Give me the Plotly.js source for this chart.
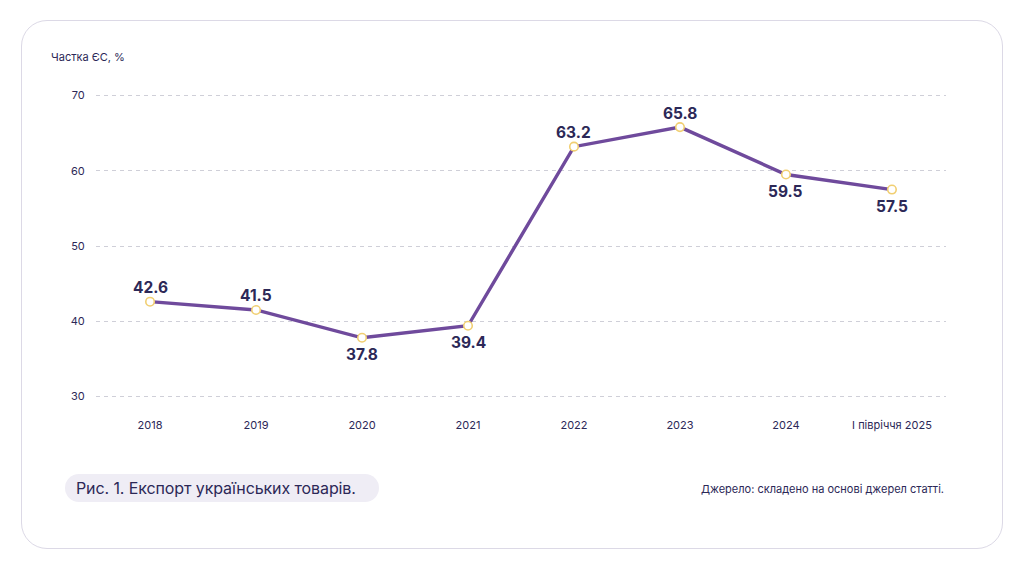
<!DOCTYPE html>
<html>
<head>
<meta charset="utf-8">
<script src="https://cdn.plot.ly/plotly-3.0.1.min.js"></script>
<style>
  html, body { margin: 0; padding: 0; background: #fff; }
  #wrap { position: relative; width: 1024px; height: 569px; }
  #card {
    position: absolute; left: 21px; top: 20px; width: 982px; height: 529px;
    border: 1px solid #dcd9e6; border-radius: 26px; box-sizing: border-box;
  }
  #chart { position: absolute; left: 0; top: 0; width: 1024px; height: 569px; }
  #caption {
    position: absolute; left: 65px; top: 474px; height: 28px; line-height: 28px;
    padding: 0 23px 0 11px; border-radius: 14px; background: #efedf5; color: #2c2857;
    font-family: Inter, "Noto Sans", sans-serif; font-size: 16px; letter-spacing: -0.1px;
  }
</style>
</head>
<body>
<div id="wrap">
  <div id="card"></div>
  <div id="chart"></div>
  <div id="caption">Рис. 1. Експорт українських товарів.</div>
</div>
<script>
// дані з малюнка
const periods = ["2018", "2019", "2020", "2021", "2022", "2023", "2024", "I півріччя 2025"];
const euShare = [42.6, 41.5, 37.8, 39.4, 63.2, 65.8, 59.5, 57.5];
const labelAbove = [true, true, false, false, true, true, false, false];

const ink = "#2c2857";

const trace = {
  x: periods.map((p, i) => i),
  y: euShare,
  mode: "lines+markers",
  line: { color: "#6f4a9c", width: 3.4 },
  marker: { size: 8.5, color: "#ffffff", line: { color: "#f1cf72", width: 1.6 } },
  cliponaxis: false,
  hoverinfo: "skip"
};

// підписи значень над / під точками
const valueLabels = euShare.map((v, i) => ({
  x: i, y: v, xref: "x", yref: "y",
  text: "<b>" + v.toFixed(1) + "</b>",
  showarrow: false,
  yanchor: "middle",
  yshift: labelAbove[i] ? 14 : -17,
  font: { family: "Inter, sans-serif", size: 15.5, color: ink }
}));

const layout = {
  width: 1024, height: 569,
  paper_bgcolor: "rgba(0,0,0,0)",
  plot_bgcolor: "rgba(0,0,0,0)",
  margin: { l: 96, r: 78, t: 93.5, b: 170.5 },
  showlegend: false,
  font: { family: "Inter, sans-serif", color: ink, size: 11 },
  xaxis: {
    range: [-0.51, 7.51],
    tickmode: "array",
    tickvals: periods.map((p, i) => i),
    ticktext: periods,
    showgrid: false, zeroline: false, showline: false,
    ticks: "outside", ticklen: 17, tickcolor: "rgba(0,0,0,0)",
    tickfont: { size: 11, color: ink }
  },
  yaxis: {
    range: [29.8, 70.2],
    tickvals: [30, 40, 50, 60, 70],
    showgrid: true, gridcolor: "#cfcfd8", gridwidth: 1, griddash: "4px,4px",
    zeroline: false, showline: false,
    ticks: "outside", ticklen: 8, tickcolor: "rgba(0,0,0,0)",
    tickfont: { size: 11, color: ink }
  },
  annotations: [
    {
      text: "Частка ЄС, %", xref: "paper", yref: "paper",
      x: (49 - 96) / 850, y: (398.5 - 56) / 305,
      xanchor: "left", yanchor: "middle", showarrow: false,
      font: { size: 11, color: ink }
    },
    {
      text: "Джерело: складено на основі джерел статті.", xref: "paper", yref: "paper",
      x: 1, y: (398.5 - 490) / 305,
      xanchor: "right", yanchor: "middle", showarrow: false,
      font: { size: 11, color: ink }
    }
  ].concat(valueLabels)
};

Plotly.newPlot("chart", [trace], layout, { staticPlot: true, displayModeBar: false });
</script>
</body>
</html>
